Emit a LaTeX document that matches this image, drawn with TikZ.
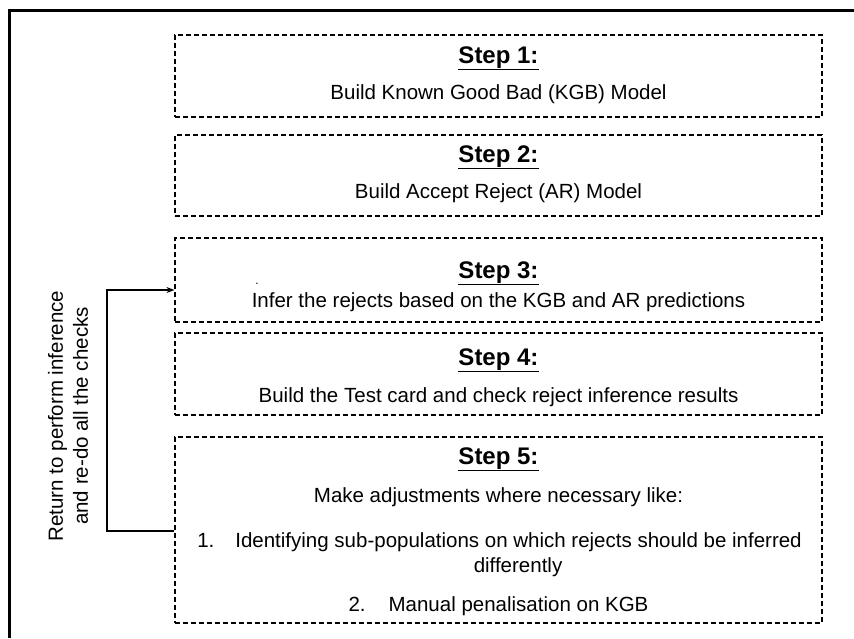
\documentclass[tikz,border=0pt]{standalone}
\usepackage{fontspec}
\setmainfont{Liberation Sans}
\usetikzlibrary{arrows.meta}
\begin{document}
\begin{tikzpicture}[x=1pt,y=-1pt,
  stepbox/.style={draw, dash pattern=on 5pt off 3pt, line width=1.1pt,
                  minimum width=647pt, inner sep=0pt},
  title/.style={anchor=base, inner sep=0pt,
                font=\fontsize{24}{29}\selectfont\bfseries},
  body/.style={anchor=base, inner sep=0pt,
               font=\fontsize{20.5}{25}\selectfont},
  link/.style={line width=1.2pt},
]
% page area and heavy frame (open to the right and bottom)
\useasboundingbox (0,0) rectangle (854,638);
\fill[white] (0,0) rectangle (854,638);
\draw[line width=3pt] (9.5,638) -- (9.5,10.5) -- (854,10.5);

% Step 1
\node[stepbox, minimum height=82pt] (b1) at (498.5,76) {};
\node[title] (t1) at (498.5,63) {\underline{Step 1:}};
\node[body] (d1) at (498.5,99) {Build Known Good Bad (KGB) Model};

% Step 2
\node[stepbox, minimum height=81pt] (b2) at (498.5,175.5) {};
\node[title] (t2) at (498.5,162) {\underline{Step 2:}};
\node[body] (d2) at (498.5,198) {Build Accept Reject (AR) Model};

% Step 3
\node[stepbox, minimum height=84pt] (b3) at (498.5,280) {};
\node[title] (t3) at (498.5,278) {\underline{Step 3:}};
\node[body, font=\fontsize{12}{14}\selectfont] (dot) at (257,284) {.};
\node[body] (d3) at (498.5,307) {Infer the rejects based on the KGB and AR predictions};

% Step 4
\node[stepbox, minimum height=82pt] (b4) at (498.5,374) {};
\node[title] (t4) at (498.5,365) {\underline{Step 4:}};
\node[body] (d4) at (498.5,402) {Build the Test card and check reject inference results};

% Step 5
\node[stepbox, minimum height=186pt] (b5) at (498.5,530) {};
\node[title] (t5) at (498.5,464) {\underline{Step 5:}};
\node[body] (m5) at (498.5,502) {Make adjustments where necessary like:};
\node[body] (l1) at (499.5,547) {1.\hspace{21pt}Identifying sub-populations on which rejects should be inferred};
\node[body] (l1b) at (518,572) {differently};
\node[body] (l2) at (498.5,611) {2.\hspace{23pt}Manual penalisation on KGB};

% feedback loop from step 5 back to step 3
\coordinate (loopTop) at (107,290);
\coordinate (loopBot) at (107,531);
\draw[link, -{Stealth[length=8pt,width=6pt]}]
  (loopBot -| b5.west) -- (loopBot) -- (loopTop) -- (loopTop -| b3.west);
\node[inner sep=0pt, rotate=90, align=center,
      font=\fontsize{20.5}{25}\selectfont] (note) at (68,416)
  {Return to perform inference\\and re-do all the checks};
\end{tikzpicture}
\end{document}
